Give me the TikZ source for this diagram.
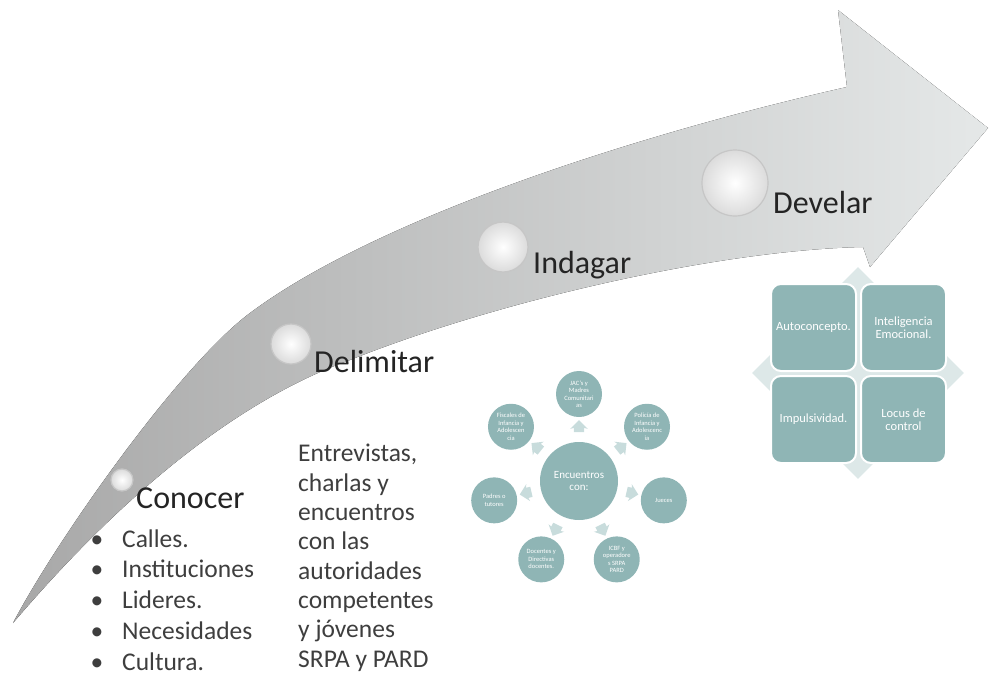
\documentclass[tikz,border=0pt]{standalone}
\usepackage{fontspec}
\setmainfont{Carlito}
\usepackage{tikz}
\usetikzlibrary{arrows.meta, positioning, shapes.geometric, shapes.arrows, calc}
\definecolor{tealbox}{RGB}{143,181,181}
\definecolor{tealpale}{RGB}{200,220,220}
\definecolor{diamondbg}{RGB}{221,232,232}
\definecolor{arrowdark}{RGB}{168,168,168}
\definecolor{arrowlight}{RGB}{229,232,232}
\definecolor{headtext}{RGB}{36,36,36}
\definecolor{bodytext}{RGB}{62,62,62}
\newcommand{\itemdot}{\makebox[31.5pt][l]{\textbullet}}
\tikzset{%
  base/.style = {text centered, align = center, text = white, inner sep = 0pt},
  stage/.style = {anchor = base west, inner sep = 0pt, text = headtext, font = \fontsize{32}{36}\selectfont},
  button/.style = {circle, draw = gray!45, line width = 1.2pt, inner color = white, outer color = gray!28},
  hub/.style = {base, circle, fill = tealbox, minimum size = 78pt, font = \fontsize{11}{12.5}\selectfont},
  satellite/.style = {base, circle, fill = tealbox, minimum size = 46pt, font = \fontsize{6.5}{7.5}\selectfont},
  chevron/.style = {single arrow, fill = tealpale, minimum height = 12pt, single arrow head extend = 3.5pt, single arrow head indent = 1pt, inner xsep = 1pt, inner ysep = 5pt},
  quad/.style = {base, rectangle, rounded corners = 10pt, fill = tealbox, draw = white, line width = 2pt, minimum width = 85pt, minimum height = 87pt, font = \fontsize{12.5}{13}\selectfont},
  listtext/.style = {anchor = base west, align = left, inner sep = 0pt, text = bodytext}
}
\begin{document}
\begin{tikzpicture}[x=1pt, y=-1pt, node distance=3pt]
    \useasboundingbox (0,0) rectangle (989,675);
    \fill[left color=arrowdark, right color=arrowlight] (13,623) .. controls (57,539) and (180,365) .. (250,313) .. controls (380,216) and (647,132) .. (847,87) -- (838,10) -- (988,128) -- (870,267) -- (863,247) .. controls (720,250) and (500,300) .. (350,360) .. controls (200,414) and (73,553) .. (13,623) -- cycle;
    \node[button, minimum size=22pt] (btnConocer) at (122,480) {};
    \node[button, minimum size=40pt] (btnDelimitar) at (291,344) {};
    \node[button, minimum size=50pt] (btnIndagar) at (503,247) {};
    \node[button, minimum size=66pt] (btnDevelar) at (735,183) {};
    \node[stage] (Conocer) at (136,508) {Conocer};
    \node[stage] (Delimitar) at (314,372) {Delimitar};
    \node[stage] (Indagar) at (533,273) {Indagar};
    \node[stage] (Develar) at (773,213) {Develar};
    \node[listtext, font=\fontsize{25.5}{30.75}\selectfont] (Lugares) at (90.5,670) {\itemdot Calles.\\ \itemdot Instituciones\\ \itemdot Lideres.\\ \itemdot Necesidades\\ \itemdot Cultura.};
    \node[listtext, font=\fontsize{25.5}{29.3}\selectfont] (Entrevistas) at (298,667) {Entrevistas,\\ charlas y\\ encuentros\\ con las\\ autoridades\\ competentes\\ y jóvenes\\ SRPA y PARD};
    \node[hub] (Encuentros) at (579,481) {Encuentros\\con:};
    \foreach \ang/\name/\txt in {90/JAC/{JAC's y\\Madres\\Comunitari\\as}, 38.57/Policia/{Policía de\\Infancia y\\Adolescenc\\ia}, -12.86/Jueces/{Jueces}, -64.29/ICBF/{ICBF y\\operadore\\s SRPA\\PARD}, -115.71/Docentes/{Docentes y\\Directivas\\docentes.}, -167.14/Padres/{Padres o\\tutores}, 141.43/Fiscales/{Fiscales de\\Infancia y\\Adolescen\\cia}}{
      \node[satellite] (\name) at ($(Encuentros)+(\ang:87pt)$) {\txt};
      \node[chevron, rotate=\ang] (to\name) at ($(Encuentros)!0.6!(\name)$) {};
    }
    \node[diamond, fill=diamondbg, minimum width=212pt, minimum height=212pt, inner sep=0pt] (Rombo) at (858,373) {};
    \node[quad] (Autoconcepto) at (813.5,327.5) {Autoconcepto.};
    \node[quad, right = of Autoconcepto] (Inteligencia) {Inteligencia\\Emocional.};
    \node[quad, below = of Autoconcepto] (Impulsividad) {Impulsividad.};
    \node[quad, right = of Impulsividad] (Locus) {Locus de\\control};
\end{tikzpicture}
\end{document}
